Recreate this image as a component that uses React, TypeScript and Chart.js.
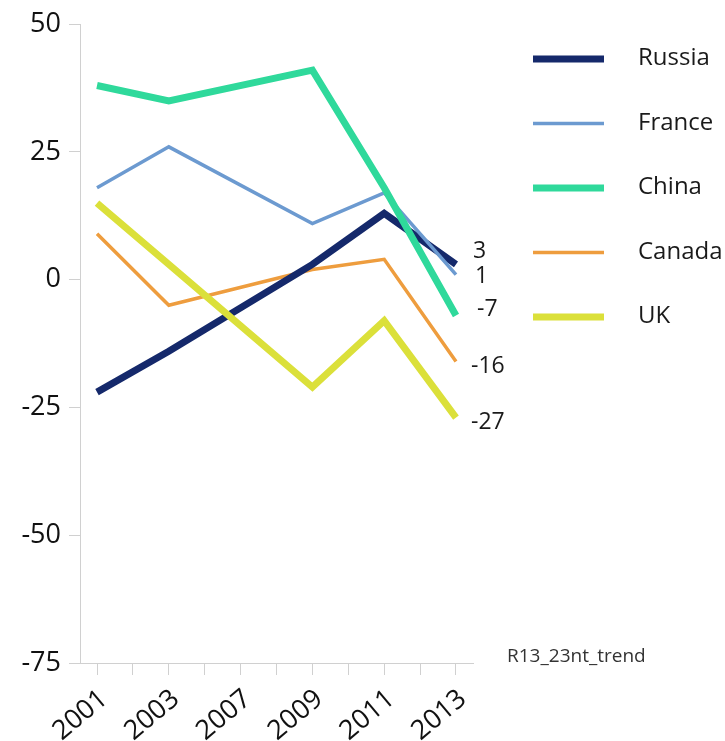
import React, { useEffect, useRef } from "react";
import { Chart, registerables } from "chart.js";

Chart.register(...registerables);

// ---- data ----
const categories = ["2001", "2003", "2007", "2009", "2011", "2013"];
const seriesNames = ["Russia", "France", "China", "Canada", "UK"];
const russia = [-22, -14, null, 3, 13, 3];
const france = [18, 26, null, 11, 17, 1];
const china = [38, 35, null, 41, 18, -7];
const canada = [9, -5, null, 2, 4, -16];
const uk = [15, 3, null, -21, -8, -27];
const endLabels = ["3", "1", "-7", "-16", "-27"];
const yTickValues = [-75, -50, -25, 0, 25, 50];
const sourceNote = "R13_23nt_trend";

// ---- styles ----
const seriesValues = [russia, france, china, canada, uk];
const colors = ["#15296b", "#6c9ad0", "#2fd99b", "#ee9d3e", "#dbe03a"];
const widths = [7, 3.5, 7, 3.5, 7];
const drawOrder = [3, 2, 0, 4, 1];
const labelOffsets = [
  [17, -13],
  [19, 2],
  [21, -6],
  [15, 5],
  [15, 5],
];
const FONT = "'Open Sans', sans-serif";

const overlayPlugin = {
  id: "overlay",
  afterDraw(chart: any) {
    const ctx = chart.ctx;
    const xs = chart.scales.x;
    const ys = chart.scales.y;
    ctx.save();
    // end value labels
    ctx.font = `23px ${FONT}`;
    ctx.fillStyle = "#1a1a1a";
    ctx.textAlign = "left";
    ctx.textBaseline = "middle";
    const last = categories.length - 1;
    seriesValues.forEach((vals, i) => {
      const v = vals[last] as number;
      const px = xs.getPixelForValue(last) + labelOffsets[i][0];
      const py = ys.getPixelForValue(v) + labelOffsets[i][1];
      ctx.fillText(endLabels[i], px, py);
    });
    // legend
    const lx0 = 533;
    const lx1 = 604;
    const tx = 638;
    const y0 = 59;
    const gap = 64.5;
    seriesNames.forEach((name, i) => {
      const y = y0 + i * gap;
      ctx.strokeStyle = colors[i];
      ctx.lineWidth = widths[i];
      ctx.lineCap = "butt";
      ctx.beginPath();
      ctx.moveTo(lx0, y);
      ctx.lineTo(lx1, y);
      ctx.stroke();
      ctx.fillStyle = "#1a1a1a";
      ctx.font = `24px ${FONT}`;
      ctx.textBaseline = "alphabetic";
      ctx.fillText(name, tx, y + 6);
    });
    // source note
    ctx.font = `19px ${FONT}`;
    ctx.fillStyle = "#333333";
    ctx.textBaseline = "middle";
    ctx.fillText(sourceNote, 507, 657);
    ctx.restore();
  },
};

export default function App() {
  const ref = useRef<HTMLCanvasElement | null>(null);
  useEffect(() => {
    if (!ref.current) return;
    const datasets = seriesNames.map((name, i) => ({
      label: name,
      data: seriesValues[i].map((v, k) => ({ x: k, y: v })),
      borderColor: colors[i],
      backgroundColor: colors[i],
      borderWidth: widths[i],
      pointRadius: 0,
      pointHoverRadius: 0,
      tension: 0,
      spanGaps: true,
      borderJoinStyle: "miter" as const,
      borderCapStyle: "butt" as const,
      order: drawOrder[i],
      fill: false,
    }));
    const chart = new Chart(ref.current, {
      type: "line",
      data: { datasets },
      plugins: [overlayPlugin],
      options: {
        animation: false,
        responsive: true,
        maintainAspectRatio: false,
        layout: { padding: { top: 21, right: 252, bottom: 0, left: 0 } },
        plugins: { legend: { display: false }, tooltip: { enabled: false } },
        scales: {
          x: {
            type: "linear",
            min: -0.237,
            max: categories.length - 1 + 0.237,
            afterBuildTicks: (scale: any) => {
              const t: any[] = [];
              for (let k = 0; k <= (categories.length - 1) * 2; k++) t.push({ value: k / 2 });
              scale.ticks = t;
            },
            afterFit: (scale: any) => {
              scale.height = 78;
            },
            ticks: {
              autoSkip: false,
              maxRotation: 40,
              minRotation: 40,
              padding: 8,
              labelOffset: 7,
              color: "#111111",
              font: { family: FONT, size: 27 },
              callback: (value: any) =>
                Number.isInteger(value) ? categories[value as number] : "",
            },
            grid: {
              display: true,
              drawOnChartArea: false,
              drawTicks: true,
              tickLength: 12,
              color: "#d0d0d0",
            },
            border: { display: true, color: "#d0d0d0", width: 1 },
          },
          y: {
            min: yTickValues[0],
            max: yTickValues[yTickValues.length - 1],
            afterBuildTicks: (scale: any) => {
              scale.ticks = yTickValues.map((v) => ({ value: v }));
            },
            afterFit: (scale: any) => {
              scale.width = 80;
            },
            ticks: {
              padding: 8,
              color: "#111111",
              font: { family: FONT, size: 27 },
            },
            grid: {
              display: true,
              drawOnChartArea: false,
              drawTicks: true,
              tickLength: 11,
              color: "#d0d0d0",
            },
            border: { display: true, color: "#d0d0d0", width: 1 },
          },
        },
      },
    });
    return () => chart.destroy();
  }, []);
  return (
    <div style={{ position: "fixed", left: 0, top: 0, width: 725, height: 741, background: "#ffffff" }}>
      <canvas ref={ref} />
    </div>
  );
}
